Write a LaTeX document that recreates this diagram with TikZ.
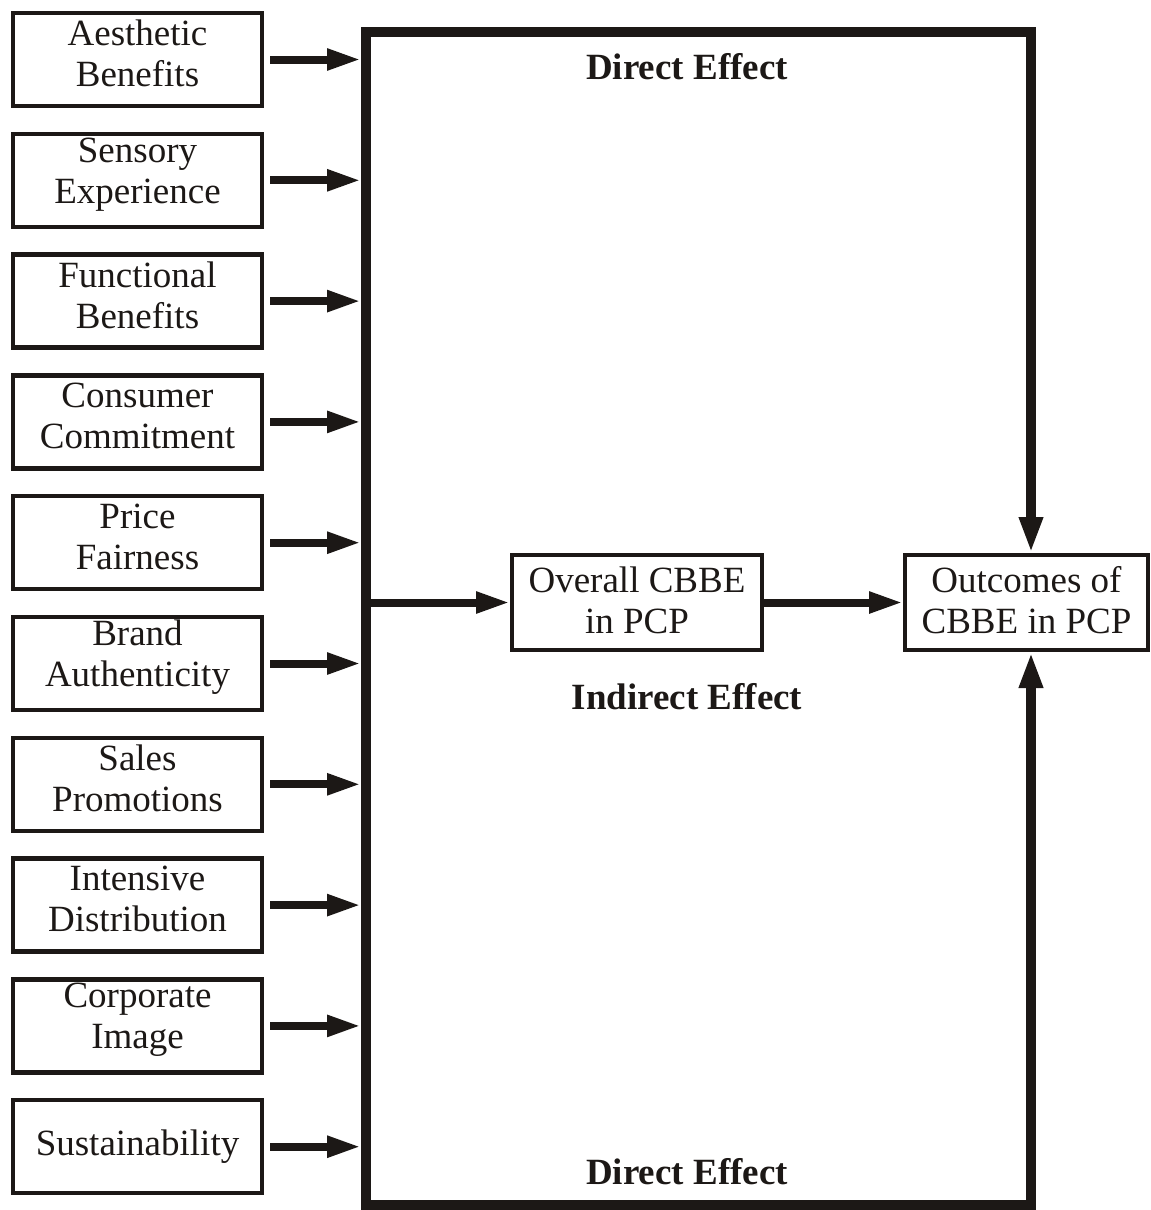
\documentclass[tikz,border=0pt]{standalone}
\usepackage{fontspec}
\setmainfont{Liberation Serif}
\usetikzlibrary{arrows.meta}
\definecolor{ink}{RGB}{28,24,22}
\begin{document}
\begin{tikzpicture}[x=1pt,y=-1pt,
  txt/.style={font=\fontsize{37}{41}\selectfont, text=ink, align=center, inner sep=0pt},
  factor/.style={draw=ink, line width=4.5pt, minimum width=249pt, minimum height=93pt, inner sep=0pt},
  midbox/.style={draw=ink, line width=4pt, minimum height=95pt, inner sep=0pt},
  effect/.style={font=\fontsize{37}{41}\selectfont\bfseries, text=ink, inner sep=0pt},
  feed/.style={draw=ink, line width=8pt, -{Triangle[length=34pt,width=20pt]}},
  frame/.style={draw=ink, line width=10pt, line join=miter}
]
\useasboundingbox (0,0) rectangle (1151,1210);

% frame corners
\coordinate (tl) at (366,32);
\coordinate (tr) at (1031,32);
\coordinate (bl) at (366,1205);
\coordinate (br) at (1031,1205);

% antecedent boxes with their labels
\foreach \i/\y/\t in {1/59.5/{Aesthetic\\Benefits},
                      2/180.3/{Sensory\\Experience},
                      3/301.1/{Functional\\Benefits},
                      4/421.9/{Consumer\\Commitment},
                      5/542.7/{Price\\Fairness},
                      6/663.5/{Brand\\Authenticity},
                      7/784.3/{Sales\\Promotions},
                      8/905.1/{Intensive\\Distribution},
                      9/1025.9/{Corporate\\Image}}{
  \node[factor] (f\i) at (137.5,\y) {};
  \node[txt, yshift=6pt] (t\i) at (f\i.center) {\t};
}
\node[factor] (f10) at (137.5,1146.7) {};
\node[txt] (t10) at (f10.center) {Sustainability};

% mediator and outcome
\node[midbox, minimum width=250pt] (ov) at (637,602.5) {};
\node[txt, yshift=2.5pt] (ovt) at (ov.center) {Overall CBBE\\in PCP};
\node[midbox, minimum width=243pt] (oc) at (1026.5,602.5) {};
\node[txt, yshift=2.5pt] (oct) at (oc.center) {Outcomes of\\CBBE in PCP};

% effect labels
\node[effect] (d1) at (687,67) {Direct Effect};
\node[effect] (ie) at (687,697) {Indirect Effect};
\node[effect] (d2) at (687,1172) {Direct Effect};

% arrows into the frame
\foreach \i in {1,...,10}
  \draw[feed, shorten <=6pt, shorten >=5pt] (f\i.east) -- (f\i.east -| tl);

% frame with direct-effect arrows
\draw[frame, {Triangle[length=36pt,width=22pt]}-{Triangle[length=36pt,width=22pt]}]
  (tr |- oc.north) -- (tr) -- (tl) -- (bl) -- (br) -- (br |- oc.south);

% indirect path
\draw[feed] (tl |- ov.west) -- (ov.west);
\draw[feed] (ov.east) -- (oc.west);
\end{tikzpicture}
\end{document}
